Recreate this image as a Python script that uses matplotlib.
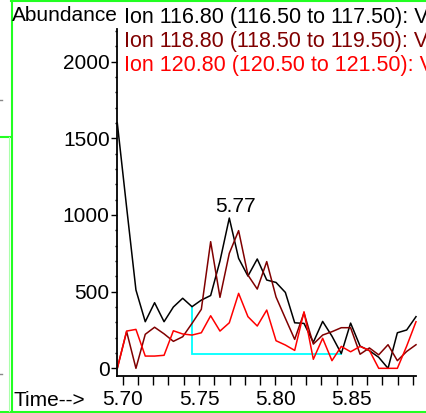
import matplotlib
matplotlib.use("Agg")
import matplotlib.pyplot as plt
from matplotlib.ticker import MultipleLocator, FormatStrFormatter
from matplotlib.lines import Line2D

plt.rcParams['font.family'] = ['Liberation Sans', 'DejaVu Sans']

# Scan times (min) and extracted ion abundances
time = [5.6965, 5.7026, 5.7087, 5.7148, 5.7209, 5.7271, 5.7332, 5.7393,
        5.7454, 5.7515, 5.7576, 5.7637, 5.7698, 5.7759, 5.7820, 5.7881,
        5.7943, 5.8004, 5.8065, 5.8126, 5.8187, 5.8248, 5.8309, 5.8370,
        5.8431, 5.8492, 5.8554, 5.8615, 5.8676, 5.8737, 5.8798, 5.8859,
        5.8920]

ion_116 = [1600, 1050, 511, 304, 428, 304, 400, 457, 402, 445, 475, 700,
           980, 717, 602, 713, 576, 560, 495, 297, 293, 170, 306, 210,
           96, 295, 145, 115, 72, 0, 232, 250, 337]

ion_118 = [0, 240, 0, 222, 268, 225, 176, 206, 293, 385, 826, 463,
           750, 898, 608, 517, 696, 465, 326, 189, 362, 158, 217, 239,
           265, 265, 92, 133, 88, 154, 50, 110, 154]

ion_120 = [0, 243, 254, 80, 80, 85, 245, 224, 217, 232, 343, 243,
           297, 489, 337, 276, 380, 180, 152, 117, 369, 59, 196, 50,
           143, 108, 143, 117, 0, 0, 0, 145, 304]

legend_labels = ["Ion 116.80 (116.50 to 117.50): V",
                 "Ion 118.80 (118.50 to 119.50): V",
                 "Ion 120.80 (120.50 to 121.50): V"]
series_colors = ["#000000", "#800000", "#ff0000"]

# integration window for the main peak (scan indices)
start_idx, end_idx = 8, 24
peak_idx = 12

W, H = 426, 413
fig = plt.figure(figsize=(W / 100, H / 100), dpi=100)


def fx(px):
    return px / W


def fy(py):
    return 1 - py / H


ax = fig.add_axes([fx(117.3), fy(376), fx(416) - fx(117.3), fy(29) - fy(376)])
ax.set_xlim(time[0], time[-1])
ax.set_ylim(-50, 2213)

for side in ("top", "right"):
    ax.spines[side].set_visible(False)
ax.spines["left"].set_linewidth(1.3)
ax.spines["bottom"].set_linewidth(1.3)

ax.xaxis.set_major_locator(MultipleLocator(0.05))
ax.xaxis.set_minor_locator(MultipleLocator(0.01))
ax.xaxis.set_major_formatter(FormatStrFormatter("%.2f"))
ax.yaxis.set_major_locator(MultipleLocator(500))
ax.yaxis.set_minor_locator(MultipleLocator(100))

ax.tick_params(axis="x", which="both", direction="out", length=6.5, width=1.0,
               labelsize=15, pad=3.5)
ax.tick_params(axis="y", which="major", direction="out", length=4.5, width=1.0,
               labelsize=15, pad=1)
ax.tick_params(axis="y", which="minor", direction="out", length=1.5, width=1.0)

# baseline of the integrated peak
bx = [time[start_idx], time[start_idx], time[end_idx]]
by = [ion_116[start_idx], ion_116[end_idx], ion_116[end_idx]]
ax.plot(bx, by, color="#00ffff", lw=1.3, solid_joinstyle="miter")

for ys, c in zip([ion_116, ion_118, ion_120], series_colors):
    ax.plot(time, ys, color=c, lw=1.1, clip_on=False)

ax.annotate(f"{time[peak_idx]:.2f}", xy=(time[peak_idx], ion_116[peak_idx]),
            xytext=(4.1, 4.5), textcoords="offset points",
            ha="center", va="baseline", fontsize=15)

# header texts
fig.text(fx(12), fy(21), "Abundance", fontsize=15, va="baseline", ha="left")
for i, (lab, c) in enumerate(zip(legend_labels, series_colors)):
    fig.text(fx(124.5), fy(22.5 + 24.2 * i), lab, color=c, fontsize=15.5,
             va="baseline", ha="left")
fig.text(fx(13), fy(406.5), "Time-->", fontsize=15, va="baseline", ha="left")

# window frame lines
green = "#22ff22"
frame = [
    ([11, 426], [0.6, 0.6]),
    ([11.5, 11.5], [0, 411]),
    ([0, 426], [411.7, 411.7]),
    ([0, 10], [136.7, 136.7]),
]
for xs, ys in frame:
    fig.add_artist(Line2D([fx(v) for v in xs], [fy(v) for v in ys],
                          color=green, lw=1.5, transform=fig.transFigure))
fig.add_artist(Line2D([fx(8.8), fx(8.8)], [fy(137), fy(411)], color="#aaffaa",
                      lw=0.8, transform=fig.transFigure))
for py in (100, 374):
    fig.add_artist(Line2D([fx(0), fx(1.5)], [fy(py), fy(py)], color="#888888",
                          lw=1.0, transform=fig.transFigure))

fig.savefig("out.png", dpi=100)
